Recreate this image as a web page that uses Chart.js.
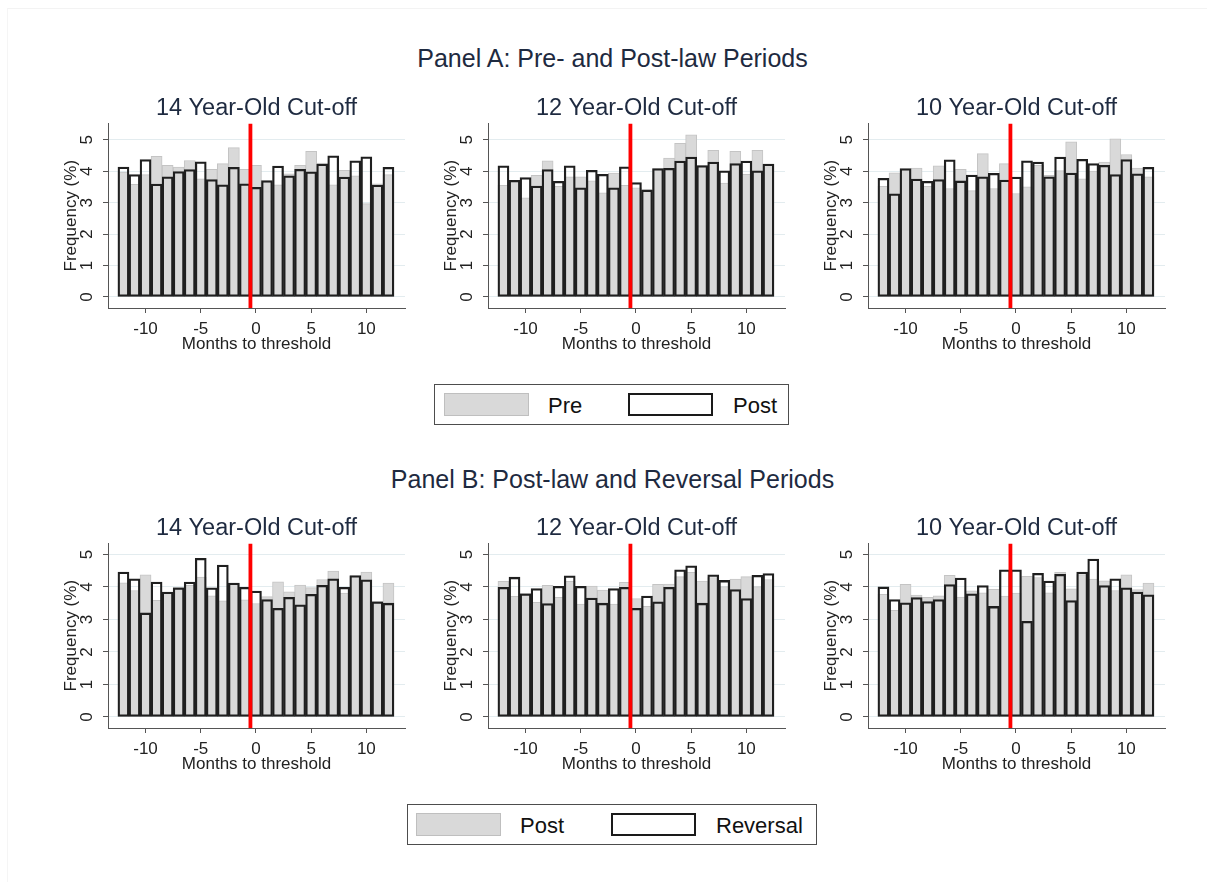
<!DOCTYPE html>
<html>
<head>
<meta charset="utf-8">
<title>Birth month frequency around the school-entry cut-off</title>
<script src="https://cdn.jsdelivr.net/npm/chart.js@4.4.1/dist/chart.umd.min.js"></script>
<style>
  body { margin: 0; background: #fff; font-family: "Liberation Sans", Arial, sans-serif; }
  #fig { position: relative; width: 1207px; height: 882px; overflow: hidden; background: #fff; }
  #frame { position: absolute; left: 7px; top: 8px; width: 1300px; height: 900px;
           border-top: 1px solid #f3f3f3; border-left: 1px solid #f5f5f5; }
  .panel-title { position: absolute; left: 9px; width: 1207px; text-align: center;
                 font-size: 25px; line-height: 25px; color: #1e2a40; white-space: nowrap; }
  canvas { position: absolute; }
  .legend-box { position: absolute; height: 41px; box-sizing: border-box; border: 1px solid #4d4d4d; background: #fff; }
  .swatch { position: absolute; width: 85px; height: 23px; box-sizing: border-box; }
  .swatch.fill { background: #d9d9d9; border: 1px solid #bfbfbf; }
  .swatch.hollow { background: #fff; border: 2px solid #1a1a1a; }
  .legend-label { position: absolute; font-size: 22px; line-height: 22px; color: #111; white-space: nowrap; }
</style>
</head>
<body>
<div id="fig">
  <div id="frame"></div>

  <div class="panel-title" style="top:46px">Panel A: Pre- and Post-law Periods</div>
  <canvas id="a14" width="372" height="272" style="left:48px;top:88px"></canvas>
  <canvas id="a12" width="372" height="272" style="left:428px;top:88px"></canvas>
  <canvas id="a10" width="372" height="272" style="left:808px;top:88px"></canvas>

  <div class="legend-box" style="left:434px;top:384px;width:355px"></div>
  <div class="swatch fill" style="left:444px;top:393px"></div>
  <div class="legend-label" style="left:548px;top:395px">Pre</div>
  <div class="swatch hollow" style="left:628px;top:393px"></div>
  <div class="legend-label" style="left:733px;top:395px">Post</div>

  <div class="panel-title" style="top:467px">Panel B: Post-law and Reversal Periods</div>
  <canvas id="b14" width="372" height="272" style="left:48px;top:508px"></canvas>
  <canvas id="b12" width="372" height="272" style="left:428px;top:508px"></canvas>
  <canvas id="b10" width="372" height="272" style="left:808px;top:508px"></canvas>

  <div class="legend-box" style="left:407px;top:804px;width:410px"></div>
  <div class="swatch fill" style="left:416px;top:813px"></div>
  <div class="legend-label" style="left:520px;top:815px">Post</div>
  <div class="swatch hollow" style="left:611px;top:813px"></div>
  <div class="legend-label" style="left:716px;top:815px">Reversal</div>
</div>

<script>
// months relative to the cut-off birth month
const months = [-12, -11, -10, -9, -8, -7, -6, -5, -4, -3, -2, -1, 0, 1, 2, 3, 4, 5, 6, 7, 8, 9, 10, 11, 12];
const xTickValues = [-10, -5, 0, 5, 10];
const yTickValues = [0, 1, 2, 3, 4, 5];
const cutoffMonth = -0.5;

// share of births (%) by month, per period and cut-off age
const pre14 = [3.97, 3.58, 3.89, 4.47, 4.19, 4.13, 4.34, 3.76, 4.06, 4.24, 4.75, 4.06, 4.19, 3.65, 3.57, 3.92, 4.19, 4.63, 4.26, 3.57, 4.03, 3.85, 2.97, 3.60, 3.89];
const post14 = [4.13, 3.89, 4.37, 3.59, 3.82, 3.99, 4.05, 4.30, 3.73, 3.57, 4.12, 3.60, 3.49, 3.70, 4.16, 3.85, 4.06, 3.98, 4.23, 4.49, 3.81, 4.33, 4.46, 3.56, 4.12];
const rev14 = [4.46, 4.25, 3.20, 4.15, 3.84, 3.97, 4.15, 4.88, 3.97, 4.67, 4.12, 3.99, 3.87, 3.61, 3.34, 3.68, 3.45, 3.77, 4.05, 4.25, 3.99, 4.35, 4.22, 3.54, 3.50];

const pre12 = [3.55, 3.70, 3.15, 3.87, 4.33, 3.52, 3.82, 3.82, 3.69, 3.31, 3.94, 3.55, 3.47, 3.42, 4.08, 4.42, 4.89, 5.16, 4.18, 4.66, 3.62, 4.63, 3.90, 4.66, 4.23];
const post12 = [4.17, 3.71, 3.80, 3.53, 4.05, 3.68, 4.17, 3.47, 4.03, 3.90, 3.47, 4.14, 3.64, 3.40, 4.08, 4.09, 4.32, 4.45, 4.18, 4.29, 4.01, 4.24, 4.32, 4.01, 4.23];
const rev12 = [3.99, 4.30, 3.79, 3.95, 3.49, 4.02, 4.34, 4.02, 3.66, 3.50, 3.95, 3.99, 3.34, 3.72, 3.54, 3.99, 4.53, 4.65, 3.50, 4.37, 4.20, 3.92, 3.64, 4.36, 4.41];

const pre10 = [3.52, 3.95, 4.05, 4.10, 3.52, 4.17, 3.45, 4.06, 3.38, 4.56, 3.45, 4.24, 3.29, 3.50, 4.19, 3.87, 4.02, 4.93, 3.76, 4.00, 4.29, 5.03, 4.53, 4.10, 3.82];
const post10 = [3.77, 3.28, 4.08, 3.75, 3.68, 3.73, 4.36, 3.69, 3.88, 3.82, 3.93, 3.72, 3.81, 4.33, 4.29, 3.82, 4.45, 3.94, 4.38, 4.24, 4.19, 3.89, 4.37, 3.92, 4.12];
const rev10 = [4.00, 3.61, 3.51, 3.67, 3.55, 3.61, 4.07, 4.27, 3.79, 4.04, 3.40, 4.53, 4.53, 2.94, 4.42, 4.18, 4.39, 3.58, 4.46, 4.86, 4.04, 4.25, 3.97, 3.84, 3.76];

const rangeA = [-0.35, 5.52];
const rangeB = [-0.34, 5.34];

Chart.defaults.font.family = '"Liberation Sans", Arial, sans-serif';
Chart.defaults.color = '#222';

const axisColor = '#555';
const gridColor = '#e3ecef';

function toPoints(vals) {
  return vals.map((v, i) => ({ x: months[i], y: v }));
}

function drawPanel(id, title, filled, hollow, yRange) {
  new Chart(document.getElementById(id), {
    type: 'bar',
    data: {
      datasets: [
        {
          // vertical marker at the cut-off
          type: 'line',
          data: [{ x: cutoffMonth, y: yRange[0] }, { x: cutoffMonth, y: yRange[1] }],
          borderColor: '#ff0000',
          borderWidth: 3.8,
          pointRadius: 0,
          order: 0
        },
        {
          data: toPoints(hollow),
          backgroundColor: 'rgba(0,0,0,0)',
          borderColor: '#1f1f1f',
          borderWidth: 1.6,
          borderSkipped: false,
          order: 1
        },
        {
          data: toPoints(filled),
          backgroundColor: '#d9d9d9',
          borderColor: '#c4c4c4',
          borderWidth: 1,
          borderSkipped: false,
          order: 2
        }
      ]
    },
    options: {
      responsive: false,
      animation: false,
      events: [],
      grouped: false,
      barPercentage: 1,
      categoryPercentage: 1,
      layout: { padding: { left: 0, right: 15, top: 0, bottom: 0 } },
      scales: {
        x: {
          type: 'linear',
          min: -13.4,
          max: 13.5,
          offset: false,
          afterBuildTicks: s => { s.ticks = xTickValues.map(v => ({ value: v })); },
          afterFit: s => { s.height = 52; },
          grid: { drawOnChartArea: false, offset: false, tickLength: 5, tickColor: axisColor },
          border: { color: axisColor, width: 1 },
          ticks: { font: { size: 17 }, color: '#222', padding: 6, maxRotation: 0, autoSkip: false },
          title: { display: true, text: 'Months to threshold', font: { size: 17 }, color: '#222',
                   padding: { top: 0, bottom: 5 } }
        },
        y: {
          min: yRange[0],
          max: yRange[1],
          afterBuildTicks: s => { s.ticks = yTickValues.map(v => ({ value: v })); },
          afterFit: s => { s.width = 60; },
          grid: { color: gridColor, tickLength: 5, tickColor: axisColor },
          border: { color: axisColor, width: 1 },
          ticks: { font: { size: 17 }, color: '#222', padding: 11, minRotation: 90, maxRotation: 90,
                   crossAlign: 'center' },
          title: { display: true, text: 'Frequency (%)', font: { size: 17 }, color: '#222',
                   padding: { top: 13, bottom: 0 } }
        }
      },
      plugins: {
        legend: { display: false },
        tooltip: { enabled: false },
        title: {
          display: true,
          text: title,
          fullSize: false,
          font: { size: 23.5, weight: 'normal' },
          color: '#1e2a40',
          padding: { top: 6, bottom: 1.2 }
        }
      }
    }
  });
}

drawPanel('a14', '14 Year-Old Cut-off', pre14, post14, rangeA);
drawPanel('a12', '12 Year-Old Cut-off', pre12, post12, rangeA);
drawPanel('a10', '10 Year-Old Cut-off', pre10, post10, rangeA);
drawPanel('b14', '14 Year-Old Cut-off', post14, rev14, rangeB);
drawPanel('b12', '12 Year-Old Cut-off', post12, rev12, rangeB);
drawPanel('b10', '10 Year-Old Cut-off', post10, rev10, rangeB);
</script>
</body>
</html>
